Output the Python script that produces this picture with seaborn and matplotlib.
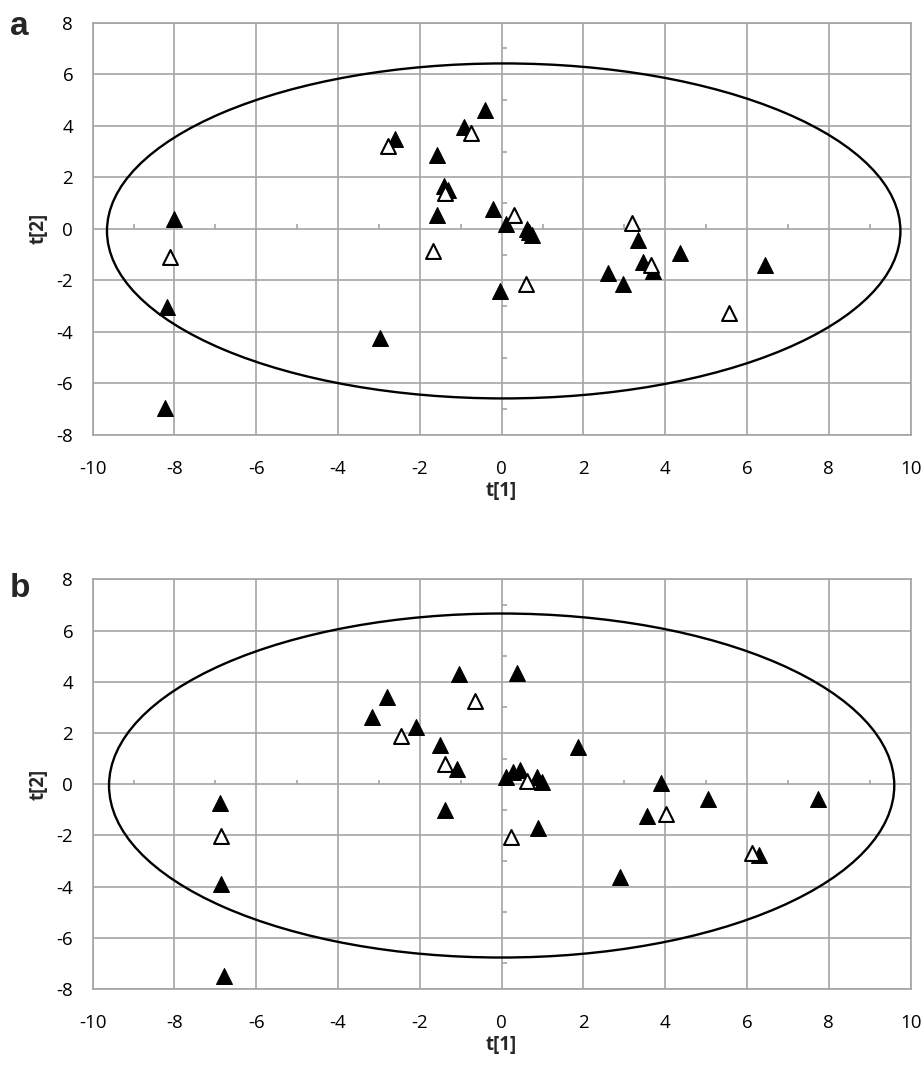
import numpy as np
import pandas as pd
import seaborn as sns
import matplotlib.pyplot as plt
from matplotlib.patches import Ellipse

# panel a scores (t[1], t[2])
a_filled_t1 = [-0.40, -0.92, -2.60, -1.58, -1.41, -1.30, -1.57, -0.20, 0.10, 0.62, 0.68, 0.75,
               -0.04, 3.33, 3.45, 3.71, 2.59, 2.96, 4.35, 6.44, -8.02, -8.19, -2.97, -8.23]
a_filled_t2 = [4.61, 3.96, 3.47, 2.86, 1.66, 1.51, 0.54, 0.76, 0.19, -0.02, -0.12, -0.24,
               -2.40, -0.43, -1.28, -1.63, -1.70, -2.15, -0.95, -1.40, 0.37, -3.02, -4.25, -6.97]
a_open_t1 = [-0.75, -2.79, -1.38, -1.69, 0.29, 0.59, 3.18, 3.66, 5.57, -8.10]
a_open_t2 = [3.73, 3.21, 1.38, -0.85, 0.54, -2.14, 0.21, -1.40, -3.26, -1.08]

# panel b scores
b_filled_t1 = [-1.04, 0.37, -2.81, -3.16, -2.10, -1.51, -1.09, 1.87, 0.11, 0.28, 0.45, 0.86,
               0.98, -1.39, 0.90, 3.89, 5.05, 7.74, 3.56, 6.30, 2.89, -6.89, -6.87, -6.79]
b_filled_t2 = [4.30, 4.36, 3.40, 2.64, 2.23, 1.54, 0.60, 1.47, 0.30, 0.49, 0.56, 0.30,
               0.10, -1.00, -1.72, 0.06, -0.57, -0.57, -1.24, -2.76, -3.61, -0.72, -3.89, -7.51]
b_open_t1 = [-0.65, -2.47, -1.39, 0.63, 0.24, 4.02, 6.13, -6.87]
b_open_t2 = [3.25, 1.89, 0.79, 0.14, -2.05, -1.17, -2.70, -2.02]

# Hotelling ellipses: centre x, centre y, half-width, half-height
a_ellipse = (0.05, -0.08, 9.7, 6.5)
b_ellipse = (0.0, -0.05, 9.6, 6.72)

x_ticks = list(range(-10, 11, 2))
y_ticks = list(range(-8, 9, 2))

GRID = "#a4a4a4"

sns.set_style("white")
plt.rcParams["font.family"] = ["Open Sans", "DejaVu Sans"]
plt.rcParams["axes.unicode_minus"] = False

fig = plt.figure(figsize=(9.23, 10.67), dpi=100)
ax_a = fig.add_axes([0.1004, 0.5923, 0.8862, 0.3864])
ax_b = fig.add_axes([0.1004, 0.0731, 0.8862, 0.3838])


def draw_panel(ax, f1, f2, o1, o2, ell):
    filled = pd.DataFrame({"t1": f1, "t2": f2})
    hollow = pd.DataFrame({"t1": o1, "t2": o2})

    ax.set_xlim(-10, 10)
    ax.set_ylim(-8, 8)
    ax.set_xticks(x_ticks)
    ax.set_yticks(y_ticks)
    ax.grid(True, color=GRID, linewidth=1.2, zorder=0)
    ax.set_axisbelow(True)
    for sp in ax.spines.values():
        sp.set_color(GRID)
        sp.set_linewidth(1.2)
    ax.tick_params(length=0, labelsize=13.5, colors="black")
    ax.tick_params(axis="x", pad=18)
    ax.tick_params(axis="y", pad=14)

    # small excel-style minor ticks on the zero axes
    odd_x = np.arange(-9, 10, 2)
    odd_y = np.arange(-7, 8, 2)
    ax.vlines(odd_x, 0, 0.18, color=GRID, linewidth=1.2, zorder=1)
    ax.hlines(odd_y, 0, 0.12, color=GRID, linewidth=1.2, zorder=1)

    cx, cy, w, h = ell
    ax.add_patch(Ellipse((cx, cy), 2 * w, 2 * h, fill=False, edgecolor="black",
                         linewidth=1.7, zorder=2))

    sns.scatterplot(data=filled, x="t1", y="t2", ax=ax, marker="^", s=130,
                    color="black", edgecolor="black", linewidth=0.8, zorder=3)
    sns.scatterplot(data=hollow, x="t1", y="t2", ax=ax, marker="^", s=115,
                    color="white", edgecolor="black", linewidth=1.5, zorder=4)

    ax.set_xlabel("t[1]", fontsize=13.5, fontweight="bold", labelpad=2)
    ax.set_ylabel("t[2]", fontsize=13.5, fontweight="bold", labelpad=6)


draw_panel(ax_a, a_filled_t1, a_filled_t2, a_open_t1, a_open_t2, a_ellipse)
draw_panel(ax_b, b_filled_t1, b_filled_t2, b_open_t1, b_open_t2, b_ellipse)

fig.text(10 / 923, 1 - 35 / 1067, "a", fontsize=24, fontweight="bold",
         family=["Liberation Sans", "DejaVu Sans"], va="baseline")
fig.text(10 / 923, 1 - 597 / 1067, "b", fontsize=24, fontweight="bold",
         family=["Liberation Sans", "DejaVu Sans"], va="baseline")

fig.savefig("out.png", dpi=100)
